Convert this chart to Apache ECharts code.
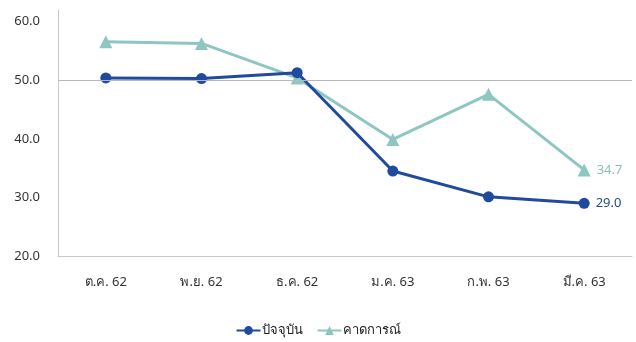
<!DOCTYPE html>
<html>
<head>
<meta charset="utf-8">
<script src="https://cdn.jsdelivr.net/npm/echarts@6/dist/echarts.min.js"></script>
<style>
html,body{margin:0;padding:0;background:#fff;}
#c{width:636px;height:342px;}
</style>
</head>
<body>
<div id="c"></div>
<script>
const categories = ['ต.ค. 62', 'พ.ย. 62', 'ธ.ค. 62', 'ม.ค. 63', 'ก.พ. 63', 'มี.ค. 63'];
const currentValues = [50.4, 50.3, 51.3, 34.5, 30.1, 29.0];
const forecastValues = [56.6, 56.3, 50.4, 39.9, 47.6, 34.7];
const seriesNames = ['ปัจจุบัน', 'คาดการณ์'];
const refValue = 50;

const FONT = '"Noto Sans", "DejaVu Sans", "Liberation Sans", sans-serif';
const chart = echarts.init(document.getElementById('c'));
const lastLabel = (color) => ({
  show: true,
  position: 'right',
  distance: 6,
  color: color,
  fontSize: 13,
  fontFamily: FONT,
  formatter: (p) => p.dataIndex === categories.length - 1 ? p.value.toFixed(1) : ''
});
chart.setOption({
  animation: false,
  textStyle: { fontFamily: FONT },
  grid: { left: 58, right: 4, top: 10, bottom: 86 },
  legend: {
    bottom: 0,
    left: 'center',
    itemWidth: 24,
    itemHeight: 11,
    itemGap: 14,
    textStyle: { fontSize: 13, color: '#222', fontFamily: FONT, padding: [0, 0, 0, -4] },
    data: [
      { name: seriesNames[0] },
      { name: seriesNames[1] }
    ]
  },
  xAxis: {
    type: 'category',
    data: categories,
    boundaryGap: true,
    axisLine: { lineStyle: { color: '#c8c8c8', width: 1 } },
    axisTick: { show: false },
    axisLabel: { color: '#333', fontSize: 13, margin: 20, fontFamily: FONT }
  },
  yAxis: {
    type: 'value',
    min: 20,
    max: 62,
    interval: 10,
    axisLine: { show: true, lineStyle: { color: '#c8c8c8', width: 1 } },
    axisTick: { show: false },
    splitLine: { show: false },
    axisLabel: {
      color: '#333', fontSize: 13, margin: 18, fontFamily: FONT,
      formatter: (v) => (v % 10 === 0 ? v.toFixed(1) : '')
    }
  },
  series: [
    {
      name: seriesNames[0],
      type: 'line',
      data: currentValues,
      symbol: 'circle',
      symbolSize: 11,
      z: 3,
      lineStyle: { color: '#1f4a9e', width: 3 },
      itemStyle: { color: '#1f4a9e' },
      label: lastLabel('#2a4a8a'),
      markLine: {
        silent: true,
        symbol: 'none',
        label: { show: false },
        lineStyle: { color: '#b8b8b8', width: 1.2, type: 'solid' },
        data: [{ yAxis: refValue }]
      }
    },
    {
      name: seriesNames[1],
      type: 'line',
      data: forecastValues,
      symbol: 'triangle',
      symbolSize: 13,
      z: 2,
      lineStyle: { color: '#8ec7c1', width: 3 },
      itemStyle: { color: '#8ec7c1' },
      label: lastLabel('#8fbcb8')
    }
  ]
});
</script>
</body>
</html>
